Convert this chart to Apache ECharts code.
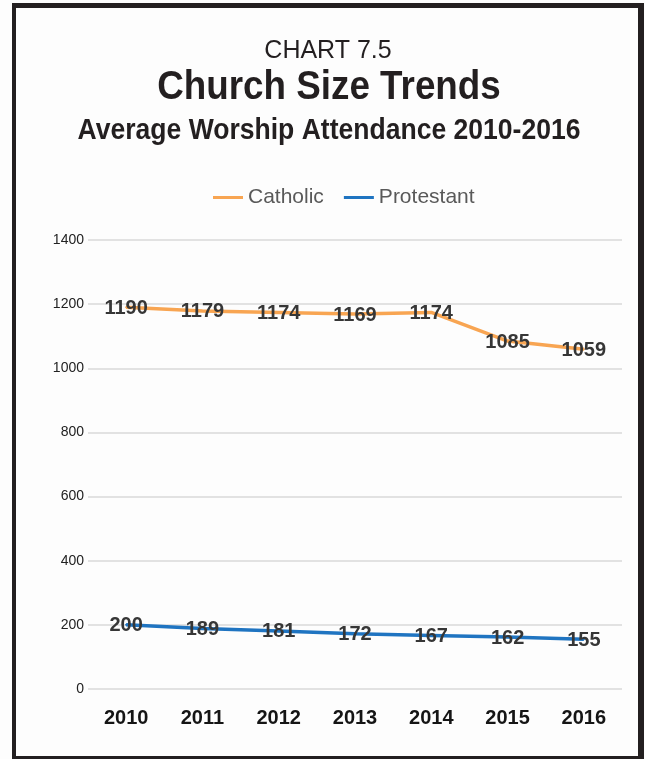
<!DOCTYPE html>
<html>
<head>
<meta charset="utf-8">
<script src="https://cdn.jsdelivr.net/npm/echarts@6/dist/echarts.min.js"></script>
<style>
  html, body { margin: 0; padding: 0; background: #fdfdfd; }
  #frame { position: absolute; left: 12px; top: 3px; width: 622px; height: 748px;
           border-left: 4px solid #231f20; border-top: 5px solid #231f20;
           border-right: 6px solid #231f20; border-bottom: 3px solid #231f20; }
  #chart { position: absolute; left: 0; top: 0; width: 645px; height: 759px; }
</style>
</head>
<body>
<div id="frame"></div>
<div id="chart"></div>
<script>
const years = ['2010', '2011', '2012', '2013', '2014', '2015', '2016'];
const catholic = [1190, 1179, 1174, 1169, 1174, 1085, 1059];
const protestant = [200, 189, 181, 172, 167, 162, 155];
const seriesNames = ['Catholic', 'Protestant'];
const yTicks = { min: 0, max: 1400, interval: 200 };

const sans = '"Liberation Sans", Arial, Helvetica, sans-serif';

const chart = echarts.init(document.getElementById('chart'), null, { renderer: 'canvas' });

const labelStyle = {
  show: true,
  position: 'inside',
  offset: [0, 1],
  fontFamily: sans,
  fontWeight: 'bold',
  fontSize: 20,
  color: '#363636'
};

chart.setOption({
  backgroundColor: 'transparent',
  animation: false,
  graphic: [
    { type: 'text', x: 328, y: 51, style: { text: 'CHART 7.5', font: '25px ' + sans, fill: '#231f20', align: 'center', verticalAlign: 'middle' } },
    { type: 'text', x: 329, y: 88, scaleX: 0.92, style: { text: 'Church Size Trends', font: 'bold 40px ' + sans, fill: '#231f20', align: 'center', verticalAlign: 'middle' } },
    { type: 'text', x: 329, y: 131, scaleX: 0.915, style: { text: 'Average Worship Attendance 2010-2016', font: 'bold 29px ' + sans, fill: '#231f20', align: 'center', verticalAlign: 'middle' } }
  ],
  legend: {
    data: seriesNames,
    top: 182,
    left: 208,
    icon: 'rect',
    itemWidth: 30,
    itemHeight: 3,
    itemGap: 20,
    textStyle: { fontFamily: sans, fontSize: 21, color: '#595959' }
  },
  grid: { left: 88, right: 23, top: 240, bottom: 70, containLabel: false },
  xAxis: {
    type: 'category',
    data: years,
    boundaryGap: true,
    axisLine: { show: false },
    axisTick: { show: false },
    axisLabel: { margin: 19, fontFamily: sans, fontWeight: 'bold', fontSize: 20, color: '#151515' }
  },
  yAxis: {
    type: 'value',
    min: yTicks.min,
    max: yTicks.max,
    interval: yTicks.interval,
    axisLine: { show: false },
    axisTick: { show: false },
    axisLabel: { margin: 4, fontFamily: sans, fontSize: 14, color: '#222', formatter: function (v) { return String(v); } },
    splitLine: { lineStyle: { color: '#d9d9d9', width: 1.5 } }
  },
  series: [
    {
      name: seriesNames[0],
      type: 'line',
      data: catholic,
      symbol: 'circle',
      symbolSize: 2,
      color: '#f8a552',
      lineStyle: { width: 3.5, color: '#f8a552' },
      label: labelStyle
    },
    {
      name: seriesNames[1],
      type: 'line',
      data: protestant,
      symbol: 'circle',
      symbolSize: 2,
      color: '#1f74c1',
      lineStyle: { width: 3.5, color: '#1f74c1' },
      label: labelStyle
    }
  ]
});
</script>
</body>
</html>
